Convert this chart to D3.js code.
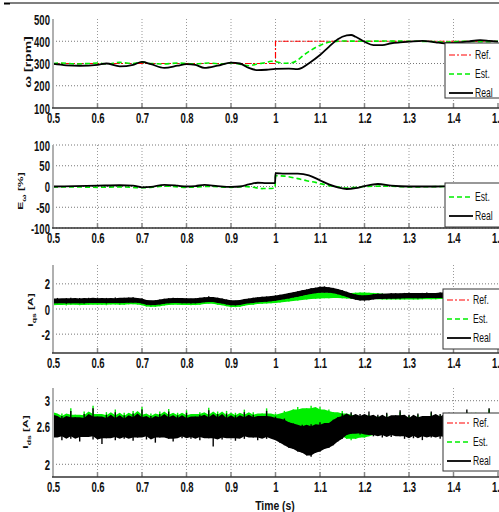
<!DOCTYPE html>
<html>
<head>
<meta charset="utf-8">
<script src="https://cdnjs.cloudflare.com/ajax/libs/d3/7.8.5/d3.min.js"></script>
<style>
  body { margin: 0; background: #fff; }
  text { font-family: "Liberation Sans", Arial, sans-serif; font-weight: bold; }
</style>
</head>
<body>
<svg id="chart"></svg>
<script>
// ---- data ----
const xTicks = [0.5, 0.6, 0.7, 0.8, 0.9, 1.0, 1.1, 1.2, 1.3, 1.4, 1.5];
const xTickLabels = ["0.5", "0.6", "0.7", "0.8", "0.9", "1", "1.1", "1.2", "1.3", "1.4", "1.5"];

const speedTicks = [100, 200, 300, 400, 500];
const errTicks = [-100, -50, 0, 50, 100];
const iqsTicks = [-2, 0, 2];
const idsTicks = [2, 2.6, 3];

// speed [rpm]
const speedRefT = [0.5, 1.0, 1.0, 1.5];
const speedRef = [300, 300, 400, 400];
const speedEstT = [0.5, 0.52, 0.55, 0.58, 0.6, 0.62, 0.65, 0.68, 0.7, 0.72, 0.75, 0.78, 0.8, 0.82, 0.85, 0.88, 0.9, 0.92, 0.94, 0.96, 0.98, 0.99, 1.0, 1.02, 1.04, 1.05, 1.065, 1.08, 1.09, 1.11, 1.13, 1.15, 1.2, 1.25, 1.3, 1.35, 1.38, 1.42, 1.47, 1.5];
const speedEst = [300, 302, 298, 300, 302, 298, 305, 300, 306, 300, 298, 302, 300, 298, 302, 298, 302, 297, 290, 298, 305, 310, 308, 301, 305, 316, 340, 360, 372, 390, 399, 401, 400, 401, 400, 399, 396, 400, 398, 400];
const speedRealT = [0.5, 0.53, 0.56, 0.6, 0.62, 0.65, 0.68, 0.7, 0.72, 0.75, 0.78, 0.8, 0.82, 0.84, 0.87, 0.9, 0.92, 0.94, 0.96, 0.98, 1.0, 1.03, 1.05, 1.08, 1.1, 1.12, 1.14, 1.16, 1.17, 1.18, 1.2, 1.22, 1.24, 1.26, 1.28, 1.3, 1.33, 1.36, 1.38, 1.4, 1.43, 1.46, 1.48, 1.5];
const speedReal = [298, 292, 290, 294, 300, 287, 294, 307, 297, 280, 290, 297, 294, 280, 290, 304, 300, 280, 270, 272, 276, 277, 275, 308, 338, 375, 409, 426, 428, 420, 398, 383, 383, 391, 395, 398, 402, 395, 391, 393, 398, 405, 402, 398];

// speed error [%]
const errRealT = [0.5, 0.55, 0.6, 0.65, 0.68, 0.7, 0.72, 0.75, 0.78, 0.8, 0.82, 0.84, 0.87, 0.9, 0.92, 0.94, 0.96, 0.98, 0.999, 1.0, 1.02, 1.05, 1.075, 1.1, 1.12, 1.14, 1.16, 1.18, 1.2, 1.23, 1.26, 1.3, 1.35, 1.4, 1.45, 1.5];
const errReal = [0, 1, 2, 3, 2, -2, -1, 4, 2, 0, 1, 4, 1, -1, 0, 5, 9, 8, 8, 32, 31, 31, 27, 15, 5, -2, -6, -4, 1, 6, 2, 0, 0, 1, 0, 1];
const errEstT = [0.5, 0.55, 0.6, 0.65, 0.7, 0.72, 0.75, 0.8, 0.85, 0.9, 0.93, 0.95, 0.97, 0.999, 1.0, 1.02, 1.05, 1.07, 1.09, 1.12, 1.14, 1.16, 1.18, 1.2, 1.25, 1.3, 1.4, 1.5];
const errEst = [-1, -1, -2, -1, -3, -2, 1, -2, 0, -2, 0, -2, -5, -4, 26, 25, 19, 14, 10, 2, -1, -4, -2, 0, 1, -1, 0, 0];

// noisy currents: upper / lower edge of the band every 0.01 s from 0.5 to 1.5
const iqsRealHi = [0.84,0.88,0.80,0.86,0.90,0.83,0.87,0.82,0.89,0.86, 0.90,0.85,0.88,0.84,0.92,0.86,0.89,0.91,0.94,0.87, 0.84,0.72,0.66,0.70,0.76,0.82,0.86,0.90,0.88,0.87, 0.86,0.82,0.85,0.90,0.94,1.02,0.96,0.90,0.84,0.76, 0.70,0.66,0.72,0.80,0.84,0.90,0.93,0.98,1.00,1.04, 1.08,1.14,1.20,1.28,1.34,1.42,1.50,1.56,1.66,1.70, 1.76,1.80,1.74,1.68,1.60,1.50,1.38,1.26,1.16,1.10, 1.08,1.12,1.18,1.22,1.24,1.20,1.26,1.25,1.24,1.28, 1.30,1.27,1.26,1.28,1.31,1.28,1.27,1.32,1.31,1.30, 1.32,1.34,1.31,1.35,1.36,1.34,1.35,1.38,1.36,1.38,1.37];
const iqsRealLo = [0.44,0.46,0.47,0.42,0.46,0.48,0.45,0.44,0.47,0.48, 0.48,0.47,0.44,0.48,0.50,0.46,0.47,0.50,0.52,0.49, 0.44,0.34,0.30,0.31,0.36,0.42,0.46,0.47,0.49,0.46, 0.46,0.43,0.45,0.47,0.54,0.58,0.56,0.48,0.44,0.36, 0.30,0.28,0.31,0.40,0.45,0.48,0.54,0.56,0.58,0.62, 0.66,0.72,0.78,0.84,0.92,0.98,1.06,1.14,1.20,1.26, 1.30,1.32,1.30,1.26,1.18,1.08,0.96,0.84,0.74,0.68, 0.66,0.70,0.76,0.80,0.82,0.80,0.82,0.84,0.82,0.85, 0.88,0.86,0.84,0.86,0.88,0.87,0.86,0.88,0.90,0.88, 0.90,0.92,0.90,0.92,0.94,0.92,0.92,0.94,0.94,0.96,0.95];
const iqsEstHi = [0.70,0.74,0.68,0.72,0.76,0.70,0.73,0.69,0.75,0.72, 0.76,0.71,0.74,0.70,0.78,0.72,0.75,0.77,0.80,0.73, 0.70,0.58,0.52,0.56,0.62,0.68,0.72,0.76,0.74,0.73, 0.72,0.68,0.71,0.76,0.80,0.88,0.82,0.76,0.70,0.62, 0.56,0.52,0.58,0.66,0.70,0.76,0.79,0.84,0.86,0.88, 0.90,0.94,0.98,1.02,1.06,1.10,1.16,1.20,1.26,1.30, 1.34,1.36,1.34,1.32,1.30,1.28,1.26,1.28,1.30,1.32, 1.32,1.30,1.28,1.26,1.22,1.18,1.20,1.19,1.18,1.20, 1.22,1.20,1.18,1.20,1.22,1.20,1.19,1.24,1.22,1.22, 1.24,1.26,1.22,1.26,1.27,1.25,1.26,1.28,1.27,1.29,1.28];
const iqsEstLo = [0.30,0.32,0.34,0.28,0.33,0.35,0.30,0.31,0.34,0.35, 0.34,0.33,0.30,0.35,0.36,0.32,0.33,0.37,0.38,0.35, 0.30,0.20,0.16,0.18,0.22,0.28,0.32,0.33,0.35,0.32, 0.32,0.29,0.31,0.33,0.40,0.44,0.42,0.34,0.30,0.22, 0.16,0.14,0.17,0.26,0.31,0.34,0.40,0.42,0.44,0.46, 0.48,0.52,0.56,0.60,0.64,0.68,0.72,0.76,0.80,0.82, 0.84,0.86,0.86,0.88,0.88,0.86,0.84,0.82,0.80,0.80, 0.80,0.82,0.80,0.78,0.76,0.74,0.76,0.75,0.74,0.76, 0.78,0.76,0.75,0.77,0.79,0.78,0.77,0.80,0.81,0.80, 0.82,0.84,0.82,0.84,0.86,0.84,0.84,0.86,0.86,0.88,0.87];

const idsRealHi = [2.78,2.72,2.76,2.70,2.84,2.74,2.71,2.79,2.73,2.88, 2.75,2.70,2.78,2.73,2.82,2.72,2.77,2.70,2.80,2.74, 2.86,2.72,2.76,2.71,2.79,2.74,2.83,2.70,2.77,2.73, 2.81,2.72,2.75,2.78,2.71,2.85,2.74,2.79,2.72,2.80, 2.73,2.77,2.70,2.82,2.74,2.78,2.71,2.76,2.84,2.73, 2.75,2.70,2.72,2.66,2.64,2.60,2.62,2.58,2.63,2.60, 2.66,2.62,2.65,2.70,2.74,2.80,2.76,2.82,2.74,2.79, 2.76,2.83,2.72,2.78,2.74,2.81,2.71,2.77,2.85,2.73, 2.78,2.72,2.80,2.74,2.76,2.83,2.71,2.79,2.75,2.81, 2.74,2.78,2.72,2.86,2.75,2.79,2.73,2.77,2.88,2.74,2.78];
const idsRealLo = [2.42,2.46,2.38,2.44,2.40,2.47,2.36,2.43,2.45,2.39, 2.44,2.32,2.41,2.46,2.38,2.43,2.40,2.45,2.37,2.42, 2.44,2.39,2.46,2.34,2.42,2.45,2.40,2.36,2.44,2.41, 2.46,2.40,2.43,2.38,2.44,2.41,2.28,2.42,2.39,2.45, 2.41,2.37,2.44,2.40,2.46,2.42,2.38,2.44,2.40,2.43, 2.38,2.34,2.30,2.26,2.24,2.20,2.18,2.14,2.12,2.18, 2.20,2.24,2.26,2.30,2.36,2.40,2.46,2.48,2.50,2.47, 2.49,2.46,2.44,2.48,2.42,2.46,2.43,2.47,2.44,2.40, 2.45,2.41,2.46,2.38,2.44,2.42,2.46,2.40,2.44,2.43, 2.41,2.44,2.38,2.45,2.42,2.40,2.46,2.39,2.43,2.41,2.44];
const idsEstHi = [2.82,2.76,2.80,2.74,2.88,2.78,2.75,2.83,2.77,2.92, 2.79,2.74,2.82,2.77,2.86,2.76,2.81,2.74,2.84,2.78, 2.90,2.76,2.80,2.75,2.83,2.78,2.87,2.74,2.81,2.77, 2.85,2.76,2.79,2.82,2.75,2.89,2.78,2.83,2.76,2.84, 2.77,2.81,2.74,2.86,2.78,2.82,2.75,2.80,2.88,2.78, 2.80,2.76,2.84,2.82,2.86,2.90,2.84,2.88,2.92,2.86, 2.90,2.84,2.86,2.82,2.80,2.84,2.78,2.80,2.72,2.76, 2.72,2.78,2.70,2.76,2.72,2.79,2.70,2.75,2.82,2.71, 2.76,2.70,2.78,2.72,2.74,2.81,2.69,2.77,2.73,2.79, 2.76,2.80,2.74,2.82,2.77,2.81,2.75,2.79,2.86,2.76,2.80];
const idsEstLo = [2.48,2.50,2.46,2.49,2.47,2.51,2.45,2.49,2.50,2.46, 2.49,2.47,2.50,2.46,2.48,2.51,2.47,2.49,2.46,2.50, 2.48,2.46,2.50,2.47,2.49,2.51,2.46,2.48,2.50,2.47, 2.49,2.46,2.48,2.50,2.47,2.49,2.45,2.48,2.50,2.47, 2.48,2.46,2.50,2.47,2.49,2.48,2.46,2.50,2.47,2.49, 2.46,2.48,2.50,2.52,2.54,2.55,2.56,2.58,2.57,2.56, 2.55,2.54,2.52,2.50,2.46,2.44,2.40,2.38,2.40,2.42, 2.42,2.44,2.46,2.48,2.47,2.49,2.46,2.48,2.47,2.45, 2.47,2.49,2.46,2.48,2.50,2.47,2.45,2.49,2.48,2.46, 2.48,2.47,2.50,2.46,2.49,2.48,2.46,2.50,2.47,2.49,2.48];

const legendLabels = ["Ref.", "Est.", "Real"];

// ---- drawing ----
const width = 499, height = 512;
const svg = d3.select("#chart").attr("width", width).attr("height", height);
const SQ = 0.68; // horizontal squeeze of the original figure

const x = d3.scaleLinear().domain([0.5, 1.5]).range([53, 498]);
const sampleT = d3.range(101).map(i => 0.5 + i * 0.01);

const styles = {
  "Ref.": { color: "#ff0000", dash: "6,2,2,2", w: 1.2 },
  "Est.": { color: "#00ee00", dash: "5,3", w: 1.6 },
  "Real": { color: "#000000", dash: null, w: 1.8 }
};

// top rule of the page
svg.append("line").attr("x1", 10).attr("x2", width).attr("y1", 3).attr("y2", 3)
  .attr("stroke", "#000").attr("stroke-width", 1.2);
svg.append("line").attr("x1", 4).attr("x2", 10).attr("y1", 3.5).attr("y2", 3.5)
  .attr("stroke", "#000").attr("stroke-width", 2);

function drawPanel(p, idx) {
  const y = d3.scaleLinear().domain(p.domain).range([p.bottom, p.top]);
  const g = svg.append("g");

  // grid
  g.selectAll(".vg").data(xTicks.slice(1, -1)).enter().append("line")
    .attr("x1", d => x(d)).attr("x2", d => x(d))
    .attr("y1", p.top).attr("y2", p.bottom)
    .attr("stroke", "#999").attr("stroke-width", 1).attr("stroke-dasharray", "1,2");
  g.selectAll(".hg").data(p.grid).enter().append("line")
    .attr("x1", 53).attr("x2", 498)
    .attr("y1", d => y(d)).attr("y2", d => y(d))
    .attr("stroke", "#777").attr("stroke-width", 1).attr("stroke-dasharray", "1,2");
  // inward tick marks
  g.selectAll(".tk").data(xTicks.slice(1)).enter().append("line")
    .attr("x1", d => x(d)).attr("x2", d => x(d))
    .attr("y1", p.bottom).attr("y2", p.bottom - 5)
    .attr("stroke", "#888").attr("stroke-width", 1.5);

  // data
  const clipId = "clip" + idx;
  svg.append("clipPath").attr("id", clipId).append("rect")
    .attr("x", 53).attr("y", p.top - 2).attr("width", 446).attr("height", p.bottom - p.top + 2);
  const dg = g.append("g").attr("clip-path", `url(#${clipId})`);

  (p.lines || []).forEach(s => {
    const st = styles[s.name];
    const pts = s.t.map((t, i) => [t, s.v[i]]);
    dg.append("path").datum(pts)
      .attr("d", d3.line().x(d => x(d[0])).y(d => y(d[1])).curve(s.name === "Ref." ? d3.curveLinear : d3.curveMonotoneX))
      .attr("fill", "none").attr("stroke", st.color).attr("stroke-width", st.w)
      .attr("stroke-dasharray", st.dash);
  });
  (p.bands || []).forEach(s => {
    const st = styles[s.name];
    // solid core: median of neighbouring samples
    const med3 = (arr, i) => {
      const a = Math.max(0, i - 1), b = Math.min(arr.length - 1, i + 1);
      return d3.median([arr[a], arr[i], arr[b]]);
    };
    const core = sampleT.map((t, i) => [t, med3(s.hi, i), med3(s.lo, i)]);
    dg.append("path").datum(core)
      .attr("d", d3.area().x(d => x(d[0])).y0(d => y(d[2])).y1(d => y(d[1])))
      .attr("fill", st.color);
    // each sample as a thin spike from its low to its high value
    dg.selectAll(null).data(sampleT).enter().append("line")
      .attr("x1", d => x(d)).attr("x2", d => x(d))
      .attr("y1", (d, i) => y(s.hi[i])).attr("y2", (d, i) => y(s.lo[i]))
      .attr("stroke", st.color).attr("stroke-width", 1.4);
  });

  // axes lines
  g.append("line").attr("x1", 53).attr("x2", 53).attr("y1", p.top).attr("y2", p.bottom)
    .attr("stroke", "#b0b0b0").attr("stroke-width", 2);
  g.append("line").attr("x1", 52).attr("x2", 499).attr("y1", p.bottom).attr("y2", p.bottom)
    .attr("stroke", "#333").attr("stroke-width", 1.6);

  // x tick labels
  const xa = g.append("g").attr("transform", `translate(0,${p.bottom})`)
    .call(d3.axisBottom(x).tickValues(xTicks).tickFormat((d, i) => xTickLabels[i]).tickSize(0));
  xa.select(".domain").remove();
  xa.selectAll("text").attr("y", 15).attr("dy", 0)
    .attr("transform", `scale(${SQ},1)`)
    .style("font-size", "14px").style("font-family", "Liberation Sans, Arial, sans-serif")
    .style("font-weight", "bold").attr("fill", "#111");

  // y tick labels
  const ya = g.append("g").attr("transform", "translate(53,0)")
    .call(d3.axisLeft(y).tickValues(p.ticks).tickFormat(d => String(d)).tickSize(0));
  ya.select(".domain").remove();
  ya.selectAll("text").attr("x", -4.5).attr("dy", "0.36em")
    .attr("transform", `scale(${SQ},1)`)
    .style("font-size", "14px").style("font-family", "Liberation Sans, Arial, sans-serif")
    .style("font-weight", "bold").attr("fill", "#111");

  // y label
  const yl = svg.append("text")
    .attr("transform", `translate(${p.label.x},${p.label.y}) scale(0.64,1) rotate(-90)`)
    .attr("text-anchor", "middle").style("font-size", p.label.size + "px").attr("fill", "#111");
  yl.append("tspan").text(p.label.main);
  if (p.label.sub) {
    yl.append("tspan").attr("dy", 4).style("font-size", (p.label.size * 0.72) + "px").text(p.label.sub);
    yl.append("tspan").attr("dy", -4).text(" [" + p.label.unit + "]");
  } else {
    yl.append("tspan").text(" [" + p.label.unit + "]");
  }

  // legend
  const L = p.legend;
  const lg = svg.append("g");
  lg.append("rect").attr("x", L.x).attr("y", L.y).attr("width", 60).attr("height", L.h)
    .attr("fill", "#fff").attr("stroke", "#333").attr("stroke-width", 1);
  L.items.forEach((name, i) => {
    const st = styles[name];
    const yy = L.y + L.first + i * L.step;
    lg.append("line").attr("x1", L.x + 4).attr("x2", L.x + 28).attr("y1", yy).attr("y2", yy)
      .attr("stroke", st.color).attr("stroke-width", st.w).attr("stroke-dasharray", st.dash);
    lg.append("text").attr("transform", `translate(${L.x + 30},${yy + 4}) scale(0.72,1)`)
      .style("font-size", "12px").style("font-weight", "normal").attr("fill", "#111").text(name);
  });
}

const panels = [
  { top: 19, bottom: 108, domain: [100, 500], ticks: speedTicks, grid: speedTicks.slice(1, -1),
    lines: [{ name: "Ref.", t: speedRefT, v: speedRef }, { name: "Est.", t: speedEstT, v: speedEst }, { name: "Real", t: speedRealT, v: speedReal }],
    label: { x: 31, y: 62, size: 14, main: "\u03c9", unit: "rpm" },
    legend: { x: 445, y: 43, h: 55, first: 12, step: 19, items: legendLabels } },
  { top: 145, bottom: 228, domain: [-100, 100], ticks: errTicks, grid: errTicks.slice(0, -1).concat([100]),
    lines: [{ name: "Est.", t: errEstT, v: errEst }, { name: "Real", t: errRealT, v: errReal }],
    label: { x: 23, y: 191, size: 12, main: "E", sub: "\u03c9", unit: "%" },
    legend: { x: 445, y: 183, h: 44, first: 14, step: 19, items: legendLabels.slice(1) } },
  { top: 265, bottom: 353, domain: [-3.5, 3.5], ticks: iqsTicks, grid: iqsTicks,
    bands: [{ name: "Est.", hi: iqsEstHi, lo: iqsEstLo }, { name: "Real", hi: iqsRealHi, lo: iqsRealLo }],
    label: { x: 33, y: 310, size: 12, main: "I", sub: "qs", unit: "A" },
    legend: { x: 443, y: 289, h: 60, first: 11, step: 19, items: legendLabels } },
  { top: 388, bottom: 477, domain: [1.8, 3.2], ticks: idsTicks, grid: idsTicks,
    bands: [{ name: "Est.", hi: idsEstHi, lo: idsEstLo }, { name: "Real", hi: idsRealHi, lo: idsRealLo }],
    label: { x: 28, y: 432, size: 12, main: "I", sub: "ds", unit: "A" },
    legend: { x: 443, y: 413, h: 58, first: 10, step: 19, items: legendLabels } }
];

panels.forEach(drawPanel);

svg.append("text").attr("transform", "translate(275,510) scale(0.8,1)")
  .attr("text-anchor", "middle").style("font-size", "13px").attr("fill", "#111").text("Time (s)");
</script>
</body>
</html>
